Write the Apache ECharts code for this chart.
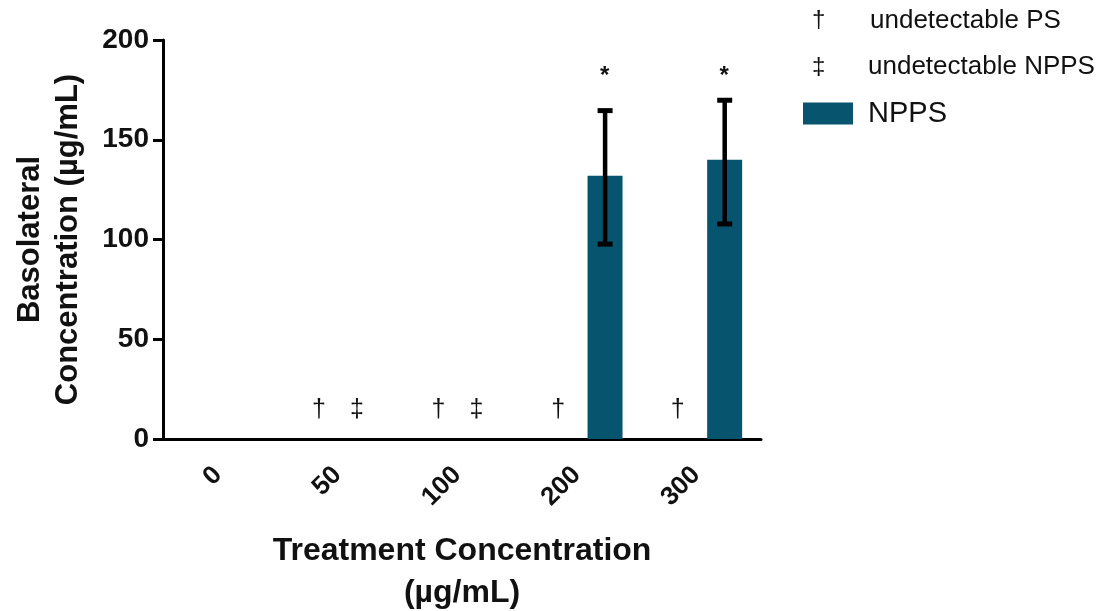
<!DOCTYPE html>
<html>
<head>
<meta charset="utf-8">
<script src="https://cdn.jsdelivr.net/npm/echarts@6/dist/echarts.min.js"></script>
<style>
html,body{margin:0;padding:0;background:#fff;}
#c{width:1107px;height:611px;}
</style>
</head>
<body>
<div id="c"></div>
<script>
// ---- data ----
var categories = ['0', '50', '100', '200', '300'];
var psValues = [0, 0, 0, 0, 0];
var nppsValues = [0, 0, 0, 132, 140];
var nppsErrLow = [null, null, null, 97.7, 107.8];
var nppsErrHigh = [null, null, null, 164.6, 169.8];
var psUndetectable = [false, true, true, true, true];
var nppsUndetectable = [false, true, true, false, false];
var significance = ['', '', '', '*', '*'];
var sigLevel = [null, null, null, 184, 184];
var yTicks = [0, 50, 100, 150, 200];

var FONT = 'Liberation Sans, Arial, sans-serif';
var BAR = '#07546f';
var chart = echarts.init(document.getElementById('c'));

var errData = [];
var sigData = [];
for (var i = 0; i < categories.length; i++) {
  if (nppsErrLow[i] != null) errData.push([i, nppsErrLow[i], nppsErrHigh[i]]);
  if (significance[i]) sigData.push([i, sigLevel[i], significance[i]]);
}

var option = {
  backgroundColor: '#fff',
  animation: false,
  grid: { left: 163, right: 346, top: 40, bottom: 172, containLabel: false, outerBoundsMode: 'none' },
  legend: {
    data: [{ name: 'NPPS', icon: 'rect' }],
    left: 798, top: 94,
    itemWidth: 50, itemHeight: 22,
    textStyle: { fontFamily: FONT, fontSize: 29, color: '#111', padding: [0, 0, 0, 10] }
  },
  graphic: [
    { type: 'text', left: 812, top: 8, style: { text: '\u2020', font: '24px ' + FONT, fill: '#111' } },
    { type: 'text', left: 870, top: 8, style: { text: 'undetectable PS', font: '26px ' + FONT, fill: '#111' } },
    { type: 'text', left: 812, top: 55, style: { text: '\u2021', font: '24px ' + FONT, fill: '#111' } },
    { type: 'text', left: 868, top: 54, style: { text: 'undetectable NPPS', font: '26px ' + FONT, fill: '#111' } }
  ],
  xAxis: {
    type: 'category',
    data: categories,
    boundaryGap: true,
    axisLine: { lineStyle: { color: '#000', width: 3 } },
    axisTick: { alignWithLabel: true, length: 10, lineStyle: { color: '#000', width: 3 } },
    axisLabel: { rotate: 45, margin: 27, padding: [0, 7, 0, 0], fontFamily: FONT, fontSize: 26, fontWeight: 'bold', color: '#111' },
    name: 'Treatment Concentration\n(\u00b5g/mL)',
    nameLocation: 'middle',
    nameGap: 91,
    nameTextStyle: { fontFamily: FONT, fontSize: 32, fontWeight: 'bold', color: '#111', lineHeight: 42 }
  },
  yAxis: {
    type: 'value',
    min: 0, max: 200, interval: 50,
    axisLine: { show: true, lineStyle: { color: '#000', width: 3 } },
    axisTick: { show: true, length: 10, lineStyle: { color: '#000', width: 3 } },
    splitLine: { show: false },
    axisLabel: { margin: 14, fontFamily: FONT, fontSize: 28, fontWeight: 'bold', color: '#111',
      formatter: function (v) { return yTicks.indexOf(v) >= 0 ? String(v) : ''; } },
    name: 'Basolateral\nConcentration (\u00b5g/mL)',
    nameLocation: 'middle',
    nameGap: 76,
    nameTextStyle: { fontFamily: FONT, fontSize: 31, fontWeight: 'bold', color: '#111', lineHeight: 38 }
  },
  series: [
    {
      name: 'PS', type: 'bar', data: psValues, barWidth: 35, barGap: '34%',
      itemStyle: { color: '#888' },
      label: { show: true, position: 'top', distance: 16,
        fontFamily: FONT, fontSize: 25, color: '#111',
        formatter: function (p) { return psUndetectable[p.dataIndex] ? '\u2020' : ''; } }
    },
    {
      name: 'NPPS', type: 'bar', data: nppsValues, barWidth: 35, barGap: '34%',
      itemStyle: { color: BAR },
      label: { show: true, position: 'top', distance: 16, offset: [-9, 0],
        fontFamily: FONT, fontSize: 25, color: '#111',
        formatter: function (p) { return nppsUndetectable[p.dataIndex] ? '\u2021' : ''; } }
    },
    {
      name: 'err', type: 'custom', data: errData, z: 10,
      renderItem: function (params, api) {
        var idx = api.value(0);
        var lo = api.coord([idx, api.value(1)]);
        var hi = api.coord([idx, api.value(2)]);
        var x = lo[0] + 23.5;
        var cap = 7.5;
        var st = { stroke: '#000', lineWidth: 4.5 };
        var cs = { stroke: '#000', lineWidth: 5 };
        return { type: 'group', children: [
          { type: 'line', shape: { x1: x, y1: hi[1], x2: x, y2: lo[1] }, style: st },
          { type: 'line', shape: { x1: x - cap, y1: hi[1], x2: x + cap, y2: hi[1] }, style: cs },
          { type: 'line', shape: { x1: x - cap, y1: lo[1], x2: x + cap, y2: lo[1] }, style: cs }
        ]};
      }
    },
    {
      name: 'sig', type: 'custom', data: sigData, z: 10,
      renderItem: function (params, api) {
        var p = api.coord([api.value(0), api.value(1)]);
        return { type: 'text', x: p[0] + 23, y: p[1] + 4,
          style: { text: sigData[params.dataIndex][2], font: 'bold 24px ' + FONT, fill: '#111',
            align: 'center', verticalAlign: 'middle' } };
      }
    }
  ]
};
chart.setOption(option);
</script>
</body>
</html>
